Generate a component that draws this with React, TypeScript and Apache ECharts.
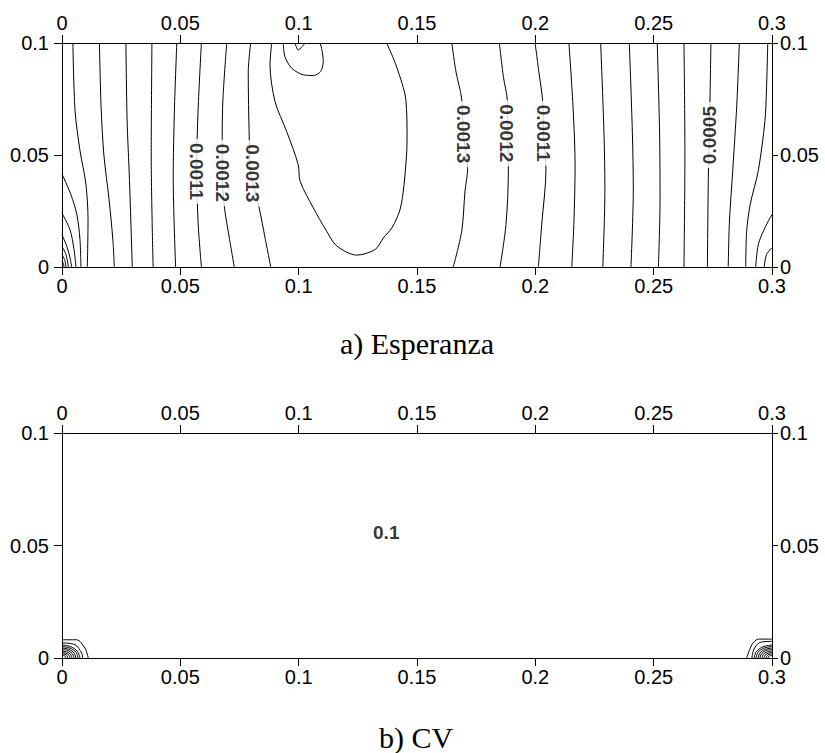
import React, { useEffect, useRef } from "react";
import * as echarts from "echarts";

const xTickLabels = ["0", "0.05", "0.1", "0.15", "0.2", "0.25", "0.3"];
const yTickLabels = ["0", "0.05", "0.1"];
const titles = ["a) Esperanza", "b) CV"];

// a) Esperanza contour lines [x, y]
const espArc1 = [[0, 0.0415], [0.0038, 0.0322], [0.0063, 0.0233], [0.0076, 0.0122], [0.008, 0]];
const espArc2 = [[0, 0.024], [0.0034, 0.0166], [0.0051, 0.0077], [0.0059, 0]];
const espArc3 = [[0, 0.0144], [0.0021, 0.009], [0.0034, 0.0041], [0.0041, 0]];
const espArc4 = [[0, 0.0092], [0.0017, 0.0055], [0.0027, 0]];
const espArc5 = [[0, 0.0055], [0.0011, 0.0033], [0.0017, 0]];
const espArc6 = [[0, 0.0025], [0.0006, 0.0015], [0.0008, 0]];
const espL1 = [[0.0046, 0.1], [0.0055, 0.07], [0.0076, 0.052], [0.0101, 0.037], [0.011, 0.021], [0.0107, 0]];
const espL2 = [[0.0158, 0.1], [0.0165, 0.072], [0.0177, 0.05], [0.0199, 0.03], [0.0215, 0.012], [0.0221, 0]];
const espL3 = [[0.027, 0.1], [0.0275, 0.066], [0.0285, 0.039], [0.0297, 0]];
const espL4 = [[0.038, 0.1], [0.0377, 0.05], [0.0385, 0]];
const espL5 = [[0.0485, 0.1], [0.0475, 0.07], [0.047, 0.04], [0.048, 0]];
const espL6 = [[0.0589, 0.1], [0.0575, 0.07], [0.0569, 0.044], [0.0575, 0.02], [0.0589, 0]];
const espL7 = [[0.0696, 0.1], [0.068, 0.075], [0.0677, 0.058], [0.0677, 0.043], [0.0686, 0.027], [0.0707, 0.013], [0.0728, 0]];
const espL8 = [[0.0797, 0.1], [0.0787, 0.087], [0.0791, 0.058], [0.0797, 0.042], [0.0832, 0.027], [0.0858, 0.013], [0.0882, 0]];
const espBig = [
  [0.0886, 0.1], [0.0879, 0.0902], [0.09, 0.0739], [0.0949, 0.0606], [0.0998, 0.0457], [0.1006, 0.0383],
  [0.1062, 0.0264], [0.1118, 0.016], [0.1161, 0.0094], [0.1245, 0.0053], [0.1323, 0.0078], [0.1358, 0.013],
  [0.1394, 0.0175], [0.1428, 0.0255], [0.1445, 0.0366], [0.1458, 0.0567], [0.1453, 0.0745], [0.1414, 0.0893], [0.1372, 0.1],
];
const espLoop = [
  [0.0935, 0.1], [0.0942, 0.0939], [0.0971, 0.0887], [0.102, 0.0858], [0.1062, 0.0855],
  [0.1093, 0.0873], [0.1104, 0.0917], [0.1097, 0.0976], [0.109, 0.1],
];
const espNotch = [[0.0985, 0.1], [0.0998, 0.0969], [0.1027, 0.1]];
const espL9 = [[0.1647, 0.1], [0.1665, 0.087], [0.1689, 0.075], [0.1696, 0.059], [0.1714, 0.044], [0.1703, 0.034], [0.1689, 0.016], [0.1653, 0]];
const espL10 = [[0.1848, 0.1], [0.1865, 0.085], [0.1882, 0.074], [0.1884, 0.058], [0.1886, 0.043], [0.1876, 0.019], [0.1851, 0]];
const espL11 = [[0.1999, 0.1], [0.2015, 0.087], [0.2031, 0.074], [0.2035, 0.059], [0.2045, 0.0435], [0.2027, 0.019], [0.2013, 0]];
const espL12 = [[0.2142, 0.1], [0.216, 0.07], [0.2168, 0.045], [0.2163, 0.02], [0.2154, 0]];
const espL13 = [[0.2276, 0.1], [0.229, 0.06], [0.2294, 0.035], [0.2285, 0]];
const espL14 = [[0.2397, 0.1], [0.241, 0.06], [0.2414, 0.035], [0.2404, 0]];
const espL15 = [[0.2515, 0.1], [0.2525, 0.06], [0.2527, 0.03], [0.252, 0]];
const espL16 = [[0.2628, 0.1], [0.2632, 0.05], [0.2628, 0]];
const espL17 = [[0.2742, 0.1], [0.2738, 0.075], [0.2735, 0.058], [0.2731, 0.04], [0.2727, 0]];
const espL18 = [[0.2862, 0.1], [0.2851, 0.072], [0.2834, 0.043], [0.282, 0.02], [0.2815, 0]];
const espL19 = [[0.2982, 0.1], [0.2977, 0.08], [0.297, 0.065], [0.2942, 0.043], [0.2908, 0.028], [0.2893, 0.016], [0.2889, 0]];
const espRArc1 = [[0.3, 0.0234], [0.297, 0.0175], [0.2942, 0.01], [0.2931, 0]];
const espRArc2 = [[0.3, 0.0086], [0.2977, 0.0056], [0.2967, 0]];

const espLines = [
  espArc1, espArc2, espArc3, espArc4, espArc5, espArc6,
  espL1, espL2, espL3, espL4, espL5, espL6, espL7, espL8,
  espBig, espLoop, espNotch,
  espL9, espL10, espL11, espL12, espL13, espL14, espL15, espL16, espL17, espL18, espL19,
  espRArc1, espRArc2,
];

const espLabelText = ["0.0011", "0.0012", "0.0013", "0.0013", "0.0012", "0.0011", "0.0005"];
const espLabelX = [0.0569, 0.0677, 0.0805, 0.1696, 0.1879, 0.2034, 0.2735];
const espLabelY = [0.0426, 0.042, 0.0418, 0.0593, 0.0597, 0.0597, 0.0589];
const espLabelRot = [-90, -90, -90, -90, -90, -90, 90];

// b) CV contour lines [x, y]
const cvL0 = [[0, 0.0081], [0.0062, 0.0081], [0.0097, 0.0044], [0.0111, 0]];
const cvL1 = [[0, 0.0067], [0.0055, 0.0059], [0.0083, 0.0022], [0.0087, 0]];
const cvL2 = [[0, 0.0058], [0.0038, 0.005], [0.0066, 0.0029], [0.0076, 0]];
const cvL3 = [[0, 0.0051], [0.0034, 0.0044], [0.0059, 0.0026], [0.0068, 0]];
const cvL4 = [[0, 0.0044], [0.003, 0.0038], [0.0051, 0.0022], [0.0059, 0]];
const cvL5 = [[0, 0.0038], [0.0026, 0.0033], [0.0044, 0.0019], [0.0051, 0]];
const cvL6 = [[0, 0.0031], [0.0021, 0.0027], [0.0037, 0.0016], [0.0042, 0]];
const cvL7 = [[0, 0.0024], [0.0017, 0.0021], [0.003, 0.0012], [0.0034, 0]];
const cvL8 = [[0, 0.0018], [0.0013, 0.0016], [0.0022, 0.0009], [0.0025, 0]];
const cvL9 = [[0, 0.0011], [0.0009, 0.001], [0.0015, 0.0006], [0.0017, 0]];
const cvR0 = [[0.3, 0.0084], [0.2942, 0.0084], [0.2915, 0.0059], [0.2893, 0]];
const cvR1 = [[0.3, 0.0074], [0.2949, 0.0069], [0.2924, 0.004], [0.2915, 0]];
const cvR2 = [[0.3, 0.0058], [0.2962, 0.005], [0.2934, 0.0029], [0.2924, 0]];
const cvR3 = [[0.3, 0.0051], [0.2966, 0.0044], [0.2941, 0.0026], [0.2932, 0]];
const cvR4 = [[0.3, 0.0044], [0.297, 0.0038], [0.2949, 0.0022], [0.2941, 0]];
const cvR5 = [[0.3, 0.0038], [0.2974, 0.0033], [0.2956, 0.0019], [0.2949, 0]];
const cvR6 = [[0.3, 0.0031], [0.2979, 0.0027], [0.2963, 0.0016], [0.2958, 0]];
const cvR7 = [[0.3, 0.0024], [0.2983, 0.0021], [0.297, 0.0012], [0.2966, 0]];
const cvR8 = [[0.3, 0.0018], [0.2987, 0.0016], [0.2978, 0.0009], [0.2975, 0]];
const cvR9 = [[0.3, 0.0011], [0.2991, 0.001], [0.2985, 0.0006], [0.2983, 0]];

const cvLines = [cvL0, cvL1, cvL2, cvL3, cvL4, cvL5, cvL6, cvL7, cvL8, cvL9, cvR0, cvR1, cvR2, cvR3, cvR4, cvR5, cvR6, cvR7, cvR8, cvR9];

const cvLabelText = ["0.1"];
const cvLabelX = [0.137];
const cvLabelY = [0.0556];

const SANS = '"Liberation Sans", Arial, sans-serif';
const SERIF = '"Liberation Serif", "Times New Roman", serif';

function xAxisCfg(grid: number, position: string) {
  return {
    type: "value",
    gridIndex: grid,
    position,
    min: 0,
    max: 0.3,
    interval: 0.05,
    axisLine: { show: true, onZero: false, lineStyle: { color: "#000", width: 1 } },
    axisTick: { show: true, inside: false, length: 8, lineStyle: { color: "#000" } },
    splitLine: { show: false },
    axisLabel: {
      show: true,
      margin: position === "top" ? 10 : 9,
      color: "#000",
      fontFamily: SANS,
      fontSize: 20,
      formatter: (v: number) => xTickLabels[Math.round(v / 0.05)],
    },
  };
}

function yAxisCfg(grid: number, position: string) {
  return {
    type: "value",
    gridIndex: grid,
    position,
    min: 0,
    max: 0.1,
    interval: 0.05,
    axisLine: { show: true, onZero: false, lineStyle: { color: "#000", width: 1 } },
    axisTick: { show: true, inside: false, length: position === "left" ? 8 : 6, lineStyle: { color: "#000" } },
    splitLine: { show: false },
    axisLabel: {
      show: true,
      margin: position === "left" ? 13 : 8,
      color: "#000",
      fontFamily: SANS,
      fontSize: 20,
      formatter: (v: number) => yTickLabels[Math.round(v / 0.05)],
    },
  };
}

function lineSeries(data: number[][], axis: number) {
  return {
    type: "line",
    xAxisIndex: axis,
    yAxisIndex: axis,
    data,
    showSymbol: false,
    symbol: "none",
    smooth: 0.3,
    silent: true,
    clip: false,
    lineStyle: { color: "#000", width: 1 },
    z: 2,
  };
}

function labelSeries(text: string[], xs: number[], ys: number[], rots: number[], axis: number) {
  return {
    type: "scatter",
    xAxisIndex: axis,
    yAxisIndex: axis,
    symbolSize: 0,
    silent: true,
    z: 5,
    data: text.map((t, i) => ({
      value: [xs[i], ys[i]],
      label: {
        show: true,
        position: "inside",
        formatter: t,
        rotate: rots[i],
        color: "#000",
        fontFamily: SANS,
        fontWeight: "bold",
        fontSize: 19,
        backgroundColor: "#fff",
        padding: [0, 4],
      },
    })),
  };
}

export default function App() {
  const ref = useRef<HTMLDivElement>(null);
  useEffect(() => {
    if (!ref.current) return;
    const chart = echarts.init(ref.current, undefined, { renderer: "svg" });
    const series: any[] = [];
    espLines.forEach((l) => series.push(lineSeries(l, 0)));
    series.push(labelSeries(espLabelText, espLabelX, espLabelY, espLabelRot, 0));
    cvLines.forEach((l) => series.push(lineSeries(l, 2)));
    series.push(labelSeries(cvLabelText, cvLabelX, cvLabelY, [0], 2));
    chart.setOption({
      animation: false,
      backgroundColor: "#fff",
      grid: [
        { left: 62, width: 710, top: 43, height: 224 },
        { left: 62, width: 710, top: 433, height: 225 },
      ],
      xAxis: [xAxisCfg(0, "bottom"), xAxisCfg(0, "top"), xAxisCfg(1, "bottom"), xAxisCfg(1, "top")],
      yAxis: [yAxisCfg(0, "left"), yAxisCfg(0, "right"), yAxisCfg(1, "left"), yAxisCfg(1, "right")],
      graphic: [
        {
          type: "text",
          x: 417,
          y: 343,
          style: { text: titles[0], fill: "#000", font: `30px ${SERIF}`, textAlign: "center", textVerticalAlign: "middle" },
        },
        {
          type: "text",
          x: 416,
          y: 737,
          style: { text: titles[1], fill: "#000", font: `30px ${SERIF}`, textAlign: "center", textVerticalAlign: "middle" },
        },
      ],
      series,
    });
    return () => chart.dispose();
  }, []);
  return <div ref={ref} style={{ position: "absolute", left: 0, top: 0, width: 825, height: 753 }} />;
}
